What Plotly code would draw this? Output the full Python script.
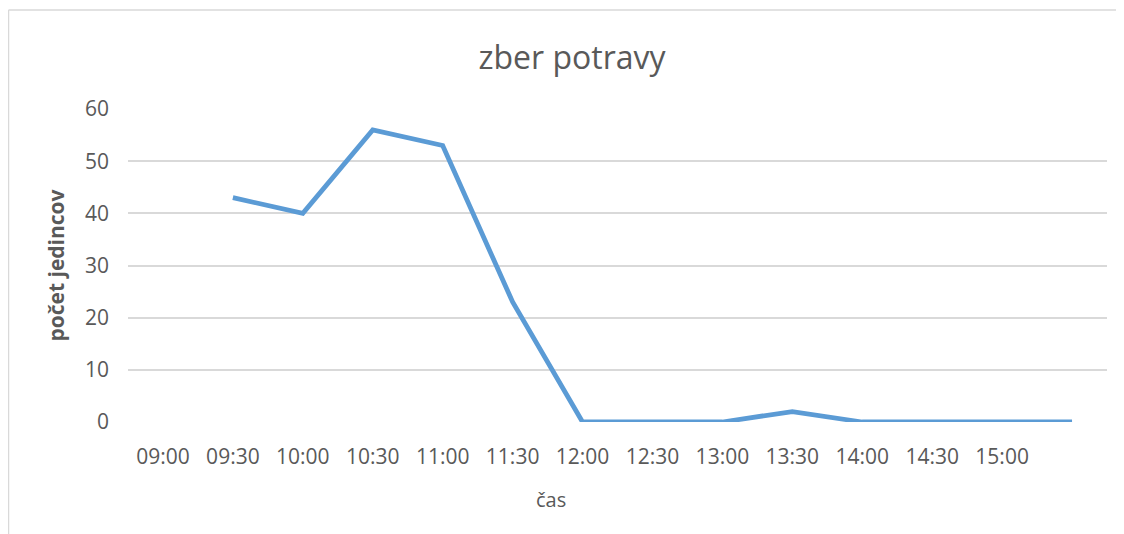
import plotly.graph_objects as go

# Data
tick_labels = ["09:00", "09:30", "10:00", "10:30", "11:00", "11:30", "12:00",
               "12:30", "13:00", "13:30", "14:00", "14:30", "15:00"]
values = [None, 43, 40, 56, 53, 23, 0, 0, 0, 2, 0, 0, 0, 0]
x_idx = list(range(len(values)))
x_title = "čas"
y_title = "počet jedincov"
chart_title = "zber potravy"

FONT = "Open Sans"
GREY = "#595959"

# page body has an 8px margin, so the figure is sized/offset to compensate
OFF = 8
FW, FH = 1124 - OFF, 534 - OFF
L, R, T, B = 128 - OFF, 17, 109 - OFF, FH - (422 - OFF)
W = FW - L - R
H = FH - T - B

fig = go.Figure()
fig.add_trace(go.Scatter(
    x=x_idx, y=values, mode="lines",
    line=dict(color="#5b9bd5", width=4.8),
    connectgaps=False, hoverinfo="skip", showlegend=False,
))

fig.update_layout(
    width=FW, height=FH,
    margin=dict(l=L, r=R, t=T, b=B),
    paper_bgcolor="white", plot_bgcolor="white",
    font=dict(family=FONT, color=GREY),
    title=dict(text=chart_title, x=(572 - OFF) / FW, xref="container", xanchor="center",
               y=1 - (58 - OFF) / FH, yanchor="middle",
               font=dict(family=FONT, size=32, color=GREY)),
    xaxis=dict(
        range=[-0.5, len(values) - 0.5],
        tickmode="array", tickvals=list(range(len(tick_labels))), ticktext=tick_labels,
        showgrid=False, zeroline=False, showline=False, ticks="",
        tickfont=dict(family=FONT, size=21, color=GREY),
        ticklabelstandoff=20,
    ),
    yaxis=dict(
        range=[0, 60], tickmode="array", tickvals=[0, 10, 20, 30, 40, 50, 60],
        showgrid=True, gridcolor="#d9d9d9", gridwidth=1.5,
        zeroline=False, showline=False, ticks="",
        tickfont=dict(family=FONT, size=21, color=GREY),
        ticklabelstandoff=18,
        title=dict(text="<b>" + y_title + "</b>", font=dict(family=FONT, size=21, color=GREY), standoff=14),
    ),
)

# x-axis title (placed left of plot centre, as in the reference)
fig.add_annotation(text=x_title, xref="paper", yref="paper",
                   x=(551 - 128) / W, y=-(500 - 422) / H,
                   xanchor="center", yanchor="middle", showarrow=False,
                   font=dict(family=FONT, size=20, color=GREY))

# Chart frame border (light grey): top and left edges visible
x_left = (0.5 - L) / W
x_right = (FW - L) / W
y_top = (H + T - 2) / H
y_bot = -B / H
fig.add_shape(type="line", xref="paper", yref="paper",
              x0=x_left, x1=x_right, y0=y_top, y1=y_top,
              line=dict(color="#d9d9d9", width=1.5), layer="below")
fig.add_shape(type="line", xref="paper", yref="paper",
              x0=x_left, x1=x_left, y0=y_bot, y1=y_top,
              line=dict(color="#d9d9d9", width=1.5), layer="below")

fig.write_html("out.html")
